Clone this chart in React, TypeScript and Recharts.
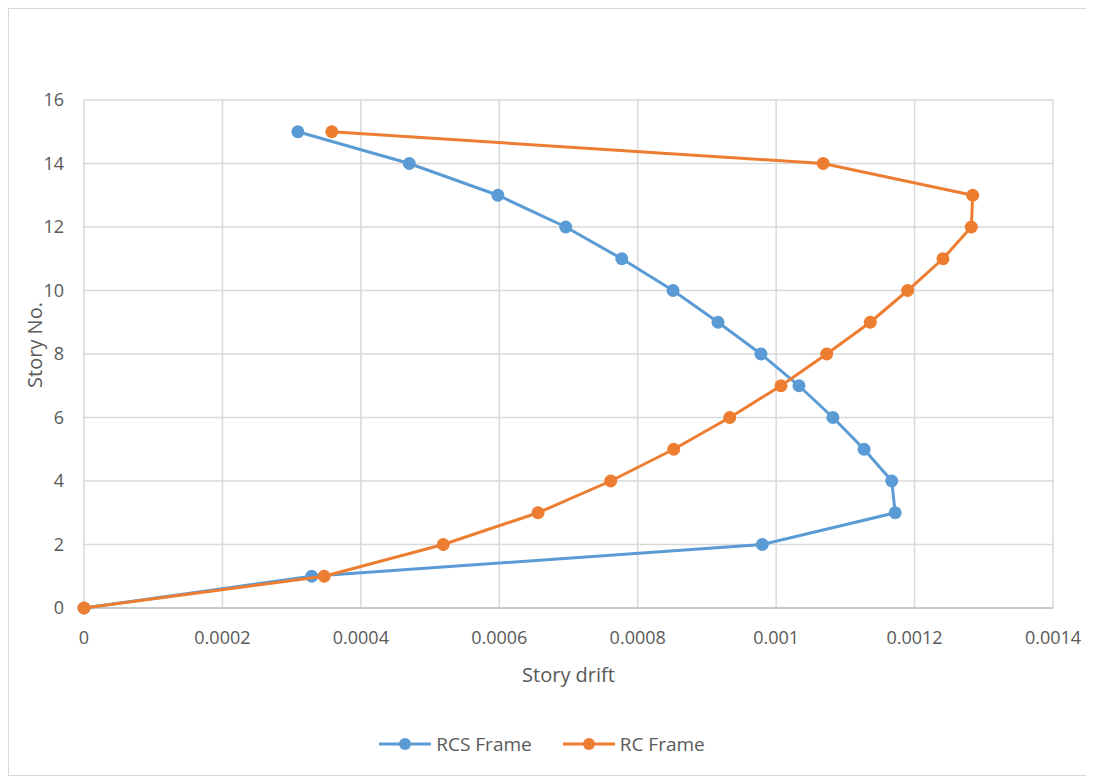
import { ScatterChart, Scatter, XAxis, YAxis, CartesianGrid, Legend } from 'recharts';

const stories = [15, 14, 13, 12, 11, 10, 9, 8, 7, 6, 5, 4, 3, 2, 1, 0];
const rcsDrift = [0.000309, 0.00047, 0.000598, 0.000696, 0.000777, 0.000851, 0.000916, 0.000978, 0.001033, 0.001082, 0.001127, 0.001167, 0.001172, 0.00098, 0.000329, 0];
const rcDrift = [0.000358, 0.001068, 0.001284, 0.001282, 0.001241, 0.00119, 0.001136, 0.001073, 0.001007, 0.000933, 0.000852, 0.000761, 0.000656, 0.000519, 0.000347, 0];
const xTicks = [0, 0.0002, 0.0004, 0.0006, 0.0008, 0.001, 0.0012, 0.0014];
const yTicks = [0, 2, 4, 6, 8, 10, 12, 14, 16];

const rcsData = stories.map((s, i) => ({ drift: rcsDrift[i], story: s }));
const rcData = stories.map((s, i) => ({ drift: rcDrift[i], story: s }));

const BLUE = '#5B9BD5';
const ORANGE = '#ED7D31';
const TEXT = '#595959';
const FONT = '"Open Sans", "Noto Sans", sans-serif';

function LegendContent() {
  const items = [
    { name: 'RCS Frame', color: BLUE },
    { name: 'RC Frame', color: ORANGE },
  ];
  return (
    <div style={{ display: 'flex', justifyContent: 'center', gap: 30, fontFamily: FONT, fontSize: 19, color: TEXT, marginLeft: 6 }}>
      {items.map((it) => (
        <div key={it.name} style={{ display: 'flex', alignItems: 'center', gap: 4 }}>
          <svg width={54} height={14}>
            <line x1={1} y1={7} x2={53} y2={7} stroke={it.color} strokeWidth={3} />
            <circle cx={27} cy={7} r={6} fill={it.color} />
          </svg>
          <span>{it.name}</span>
        </div>
      ))}
    </div>
  );
}

function YLabel(props: any) {
  const vb = props.viewBox || {};
  const cx = 25;
  const cy = (vb.y ?? 91) + (vb.height ?? 508) / 2 - 9;
  return (
    <text x={cx} y={cy} transform={`rotate(-90 ${cx} ${cy})`} textAnchor="middle" dominantBaseline="central" fill={TEXT} fontSize={20} fontFamily={FONT}>
      Story No.
    </text>
  );
}

export default function App() {
  return (
    <div style={{ width: 1086, height: 768, border: '1px solid #D9D9D9', boxSizing: 'border-box', background: '#fff' }}>
      <ScatterChart width={1084} height={766} margin={{ top: 91, right: 40, left: 15, bottom: 18 }}>
        <CartesianGrid stroke="#D9D9D9" strokeWidth={1.5} horizontalValues={yTicks} verticalValues={xTicks} />
        <XAxis
          type="number"
          dataKey="drift"
          domain={[0, 0.0014]}
          ticks={xTicks}
          tickFormatter={(v: number) => String(v)}
          axisLine={{ stroke: '#BFBFBF', strokeWidth: 1.5 }}
          tickLine={false}
          tick={{ fill: TEXT, fontSize: 18, fontFamily: FONT, dy: 15 }}
          height={123}
          label={{ value: 'Story drift', position: 'insideTop', offset: 60, fill: TEXT, fontSize: 20, fontFamily: FONT }}
        />
        <YAxis
          type="number"
          dataKey="story"
          domain={[0, 16]}
          ticks={yTicks}
          axisLine={false}
          tickLine={false}
          tick={{ fill: TEXT, fontSize: 18, fontFamily: FONT, dx: -12 }}
          width={60}
          label={<YLabel />}
        />
        <Legend verticalAlign="bottom" content={<LegendContent />} />
        <Scatter
          name="RCS Frame"
          data={rcsData}
          fill={BLUE}
          line={{ stroke: BLUE, strokeWidth: 3 }}
          lineJointType="linear"
          shape={(p: any) => <circle cx={p.cx} cy={p.cy} r={6.5} fill={BLUE} />}
          isAnimationActive={false}
        />
        <Scatter
          name="RC Frame"
          data={rcData}
          fill={ORANGE}
          line={{ stroke: ORANGE, strokeWidth: 3 }}
          lineJointType="linear"
          shape={(p: any) => <circle cx={p.cx} cy={p.cy} r={6.5} fill={ORANGE} />}
          isAnimationActive={false}
        />
      </ScatterChart>
    </div>
  );
}
